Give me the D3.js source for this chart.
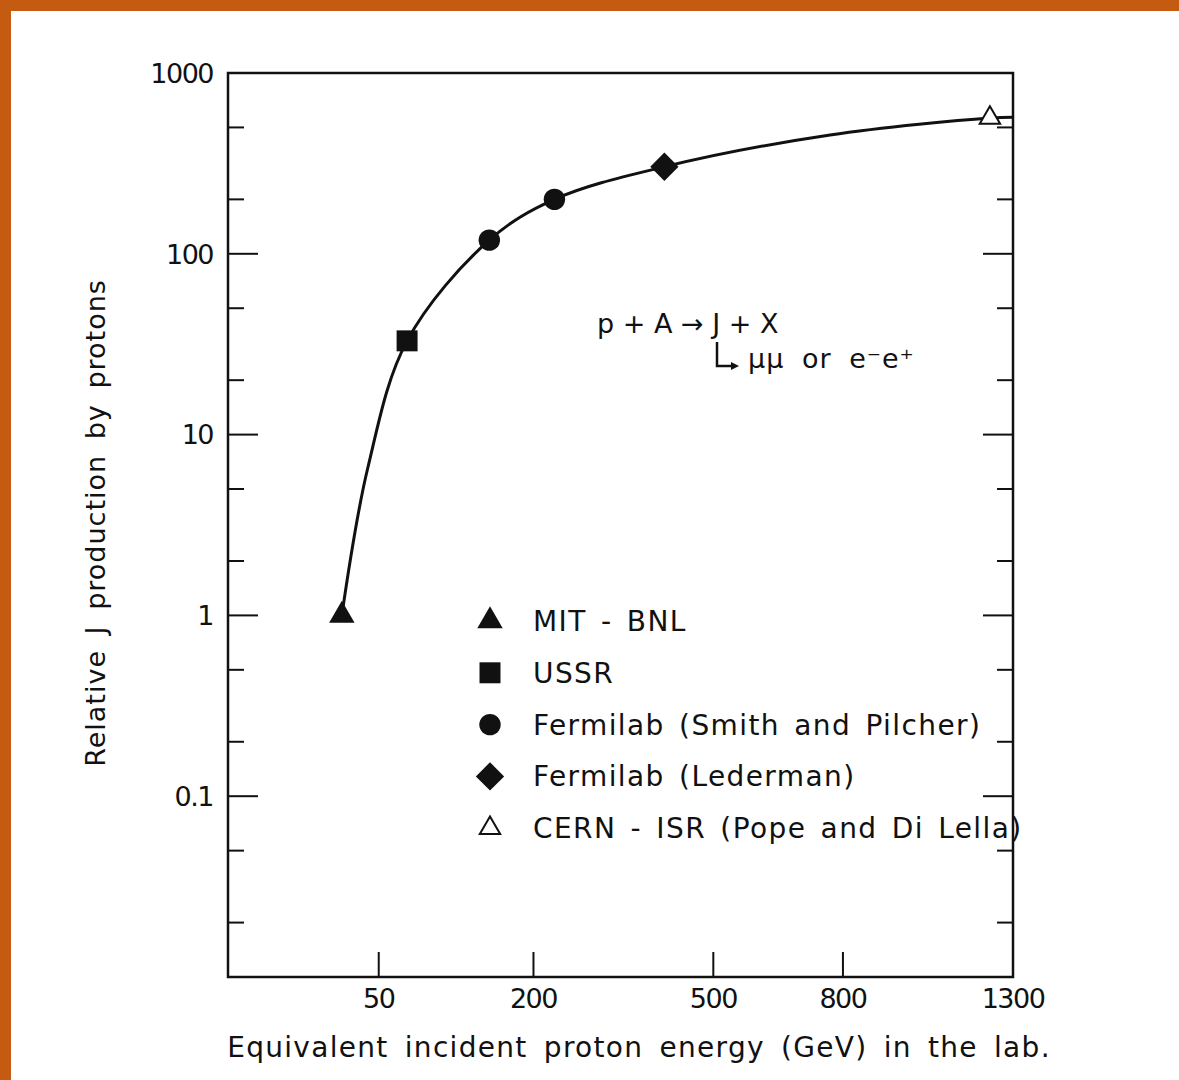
<!DOCTYPE html>
<html>
<head>
<meta charset="utf-8">
<script src="https://cdn.jsdelivr.net/npm/d3@7"></script>
<style>
  body { margin: 0; background: #fff; }
  text { font-family: "DejaVu Sans", sans-serif; fill: #111; }
</style>
</head>
<body>
<script>
var energy   = [29, 70, 147, 228, 405, 1225];
var relYield = [1, 33, 119, 200, 303, 564];
var expIndex = [0, 1, 2, 2, 3, 4];

// smooth curve drawn through the points
var curveEnergy = [29, 43.3, 70, 147, 228, 405, 767, 1225, 1300];
var curveYield  = [1, 6.62, 33, 119, 200, 303, 454, 564, 570];

var experiments = ["MIT - BNL", "USSR", "Fermilab (Smith and Pilcher)",
                   "Fermilab (Lederman)", "CERN - ISR (Pope and Di Lella)"];

var xTicks = [50, 200, 500, 800, 1300];
var yLabels = [1000, 100, 10, 1, 0.1];

var W = 1179, H = 1080;
var m = { left: 228, right: 1013, top: 73, bottom: 977 };

var svg = d3.select("body").append("svg")
  .attr("width", W)
  .attr("height", H);

// orange frame of the scan
svg.append("rect").attr("width", W).attr("height", H).attr("fill", "#c55a11");
svg.append("rect").attr("x", 11).attr("y", 11).attr("width", W).attr("height", H).attr("fill", "#fff");

var x = d3.scaleSqrt().domain([0, 1300]).range([224, m.right]);
var y = d3.scaleLog().domain([0.01, 1000]).range([m.bottom, m.top]);

// box
svg.append("rect")
  .attr("x", m.left).attr("y", m.top)
  .attr("width", m.right - m.left).attr("height", m.bottom - m.top)
  .attr("fill", "none").attr("stroke", "#111").attr("stroke-width", 2.5);

// y ticks, both sides, pointing inwards
var yTickVals = [];
for (var e = -2; e < 3; e++) {
  [1, 2, 5].forEach(function(k) { yTickVals.push(k * Math.pow(10, e)); });
}
yTickVals = yTickVals.filter(function(v) { return v > 0.011 && v < 999; });
function tickLen(v) {
  var l = Math.log10(v);
  return Math.abs(l - Math.round(l)) < 1e-9 ? 30 : 16;
}
svg.append("g").selectAll("line").data(yTickVals).enter().append("line")
  .attr("x1", m.left).attr("x2", function(d) { return m.left + tickLen(d); })
  .attr("y1", function(d) { return y(d); }).attr("y2", function(d) { return y(d); })
  .attr("stroke", "#111").attr("stroke-width", 2);
svg.append("g").selectAll("line").data(yTickVals).enter().append("line")
  .attr("x1", m.right).attr("x2", function(d) { return m.right - tickLen(d); })
  .attr("y1", function(d) { return y(d); }).attr("y2", function(d) { return y(d); })
  .attr("stroke", "#111").attr("stroke-width", 2);

svg.append("g").selectAll("text").data(yLabels).enter().append("text")
  .attr("x", 213).attr("y", function(d) { return y(d); })
  .attr("dy", "0.36em")
  .attr("text-anchor", "end")
  .attr("font-size", 27).attr("letter-spacing", -1.5)
  .text(function(d) { return d; });

// x ticks along the bottom
svg.append("g").selectAll("line").data(xTicks.slice(0, 4)).enter().append("line")
  .attr("x1", function(d) { return x(d); }).attr("x2", function(d) { return x(d); })
  .attr("y1", m.bottom).attr("y2", m.bottom - 25)
  .attr("stroke", "#111").attr("stroke-width", 2);
svg.append("g").selectAll("text").data(xTicks).enter().append("text")
  .attr("x", function(d) { return x(d); }).attr("y", 1008)
  .attr("text-anchor", "middle")
  .attr("font-size", 27).attr("letter-spacing", -1.5)
  .text(function(d) { return d; });

// axis titles
svg.append("text")
  .attr("x", 639).attr("y", 1057)
  .attr("text-anchor", "middle")
  .attr("font-size", 28).attr("letter-spacing", 1.3).attr("word-spacing", 6)
  .text("Equivalent incident proton energy (GeV) in the lab.");
svg.append("text")
  .attr("transform", "translate(105,523) rotate(-90)")
  .attr("text-anchor", "middle")
  .attr("font-size", 27).attr("letter-spacing", 1).attr("word-spacing", 6)
  .text("Relative J production by protons");

// curve
var curvePts = curveEnergy.map(function(d, i) { return [d, curveYield[i]]; });
svg.append("path")
  .datum(curvePts)
  .attr("fill", "none").attr("stroke", "#111").attr("stroke-width", 3)
  .attr("d", d3.line()
    .x(function(d) { return x(d[0]); })
    .y(function(d) { return y(d[1]); })
    .curve(d3.curveCatmullRom.alpha(0.5)));

// markers
function marker(sel, k) {
  if (k === 0) sel.attr("d", d3.symbol(d3.symbolTriangle, 280)()).attr("fill", "#111");
  else if (k === 1) sel.attr("d", d3.symbol(d3.symbolSquare, 440)()).attr("fill", "#111");
  else if (k === 2) sel.attr("d", d3.symbol(d3.symbolCircle, 360)()).attr("fill", "#111");
  else if (k === 3) sel.attr("d", d3.symbol(d3.symbolSquare, 400)()).attr("fill", "#111");
  else sel.attr("d", d3.symbol(d3.symbolTriangle, 180)()).attr("fill", "#fff")
          .attr("stroke", "#111").attr("stroke-width", 2);
}
energy.forEach(function(d, i) {
  var k = expIndex[i];
  var p = svg.append("path")
    .attr("transform", "translate(" + x(d) + "," + y(relYield[i]) + ")" + (k === 3 ? " rotate(45)" : ""));
  marker(p, k);
});

// legend
experiments.forEach(function(name, k) {
  var ly = 621 + k * 51.8;
  var p = svg.append("path")
    .attr("transform", "translate(490," + ly + ")" + (k === 3 ? " rotate(45)" : ""));
  marker(p, k);
  svg.append("text")
    .attr("x", 533).attr("y", ly).attr("dy", "0.36em")
    .attr("font-size", 28).attr("letter-spacing", 1.4).attr("word-spacing", 4)
    .text(name);
});

// reaction annotation
svg.append("text")
  .attr("x", 597).attr("y", 333)
  .attr("font-size", 27)
  .text("p + A \u2192 J + X");
svg.append("path")
  .attr("d", "M717,342 V366 H733")
  .attr("fill", "none").attr("stroke", "#111").attr("stroke-width", 2.5);
svg.append("path")
  .attr("d", "M731,362 L739,366 L731,370 Z")
  .attr("fill", "#111");
svg.append("text")
  .attr("x", 748).attr("y", 368)
  .attr("font-size", 27).attr("letter-spacing", 1).attr("word-spacing", 8)
  .text("\u03bc\u03bc or e\u207be\u207a");
</script>
</body>
</html>
